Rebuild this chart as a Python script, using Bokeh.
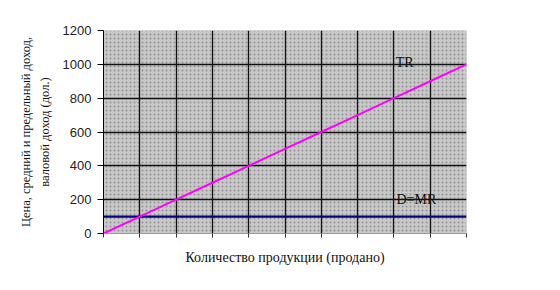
from bokeh.plotting import figure
from bokeh.models import Range1d, FixedTicker, Label, BoxAnnotation, LinearAxis
from bokeh.embed import file_html
from bokeh.resources import INLINE

quantity = [0, 1, 2, 3, 4, 5, 6, 7, 8, 9, 10]
total_revenue = [0, 100, 200, 300, 400, 500, 600, 700, 800, 900, 1000]
marginal_revenue = [100, 100, 100, 100, 100, 100, 100, 100, 100, 100, 100]
y_ticks = [0, 200, 400, 600, 800, 1000, 1200]
x_title = "Количество продукции (продано)"
y_title_1 = "Цена, средний и предельный доход,"
y_title_2 = "валовой доход (дол.)"

serif = "Liberation Serif"

p = figure(width=560, height=290, output_backend="svg", toolbar_location=None,
           x_range=Range1d(0, 10), y_range=Range1d(0, 1200),
           min_border_left=103, min_border_right=94, min_border_top=30, min_border_bottom=57)
p.outline_line_color = None
p.background_fill_color = "#c6c6c6"
p.border_fill_color = "white"

bg = BoxAnnotation(fill_color="#c8c8c8", fill_alpha=1, hatch_pattern=".", hatch_color="#8e8e8e",
                   hatch_scale=4, hatch_alpha=0.9, line_color=None, level="image")
p.add_layout(bg)

p.xaxis.ticker = FixedTicker(ticks=quantity)
p.xaxis.major_label_text_font_size = "0px"
p.xaxis.major_label_text_color = None
p.xaxis.axis_line_color = "#9a9a9a"
p.xaxis.major_tick_line_color = "#333333"
p.xaxis.major_tick_out = 4
p.xaxis.major_tick_in = 0
p.xaxis.minor_tick_line_color = None
p.xaxis.axis_label = x_title
p.xaxis.axis_label_text_font = serif
p.xaxis.axis_label_text_font_size = "14px"
p.xaxis.axis_label_text_font_style = "normal"
p.xaxis.axis_label_text_color = "#111111"
p.xaxis.axis_label_standoff = 12

p.yaxis.ticker = FixedTicker(ticks=y_ticks)
p.yaxis.axis_line_color = "black"
p.yaxis.major_tick_line_color = "black"
p.yaxis.major_tick_out = 6
p.yaxis.major_tick_in = 0
p.yaxis.minor_tick_line_color = None
p.yaxis.major_label_text_font = "Liberation Sans"
p.yaxis.major_label_text_font_size = "13px"
p.yaxis.major_label_text_color = "#222222"
p.yaxis.major_label_standoff = 6
p.yaxis.axis_label = y_title_2
p.yaxis.axis_label_text_font = serif
p.yaxis.axis_label_text_font_size = "12.5px"
p.yaxis.axis_label_text_font_style = "normal"
p.yaxis.axis_label_text_color = "#111111"
p.yaxis.axis_label_standoff = 8

outer = LinearAxis(ticker=FixedTicker(ticks=[]), axis_line_color=None, major_tick_line_color=None,
                   minor_tick_line_color=None, major_label_text_font_size="0px",
                   axis_label=y_title_1, axis_label_text_font=serif, axis_label_text_font_size="12.5px",
                   axis_label_text_font_style="normal", axis_label_text_color="#111111",
                   axis_label_standoff=2)
p.add_layout(outer, "left")

p.xgrid.ticker = FixedTicker(ticks=quantity[1:-1])
p.ygrid.ticker = FixedTicker(ticks=y_ticks[1:-1])
p.xgrid.grid_line_color = "#111111"
p.ygrid.grid_line_color = "#111111"
p.xgrid.grid_line_width = 1.3
p.ygrid.grid_line_width = 1.3

p.line(quantity, marginal_revenue, line_color="#000080", line_width=2.2)
p.line(quantity, total_revenue, line_color="#ff00ff", line_width=2)

p.add_layout(Label(x=8.05, y=1010, text="TR", text_font=serif, text_font_size="14px",
                   text_baseline="middle", text_color="#111111"))
p.add_layout(Label(x=8.07, y=200, text="D=MR", text_font=serif, text_font_size="14px",
                   text_baseline="middle", text_color="#111111"))

open("out.html", "w").write(file_html(p, INLINE))
